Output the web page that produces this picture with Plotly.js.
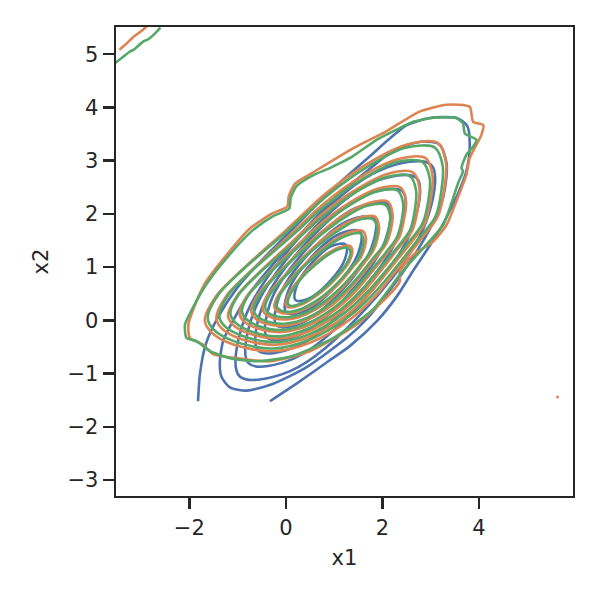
<!DOCTYPE html>
<html>
<head>
<meta charset="utf-8">
<script src="https://cdn.plot.ly/plotly-3.0.1.min.js"></script>
<style>
  html, body { margin: 0; padding: 0; background: #fff; }
  #chart { width: 600px; height: 600px; }
</style>
</head>
<body>
<div id="chart"></div>
<script>
// contour lines, outermost level first
var blueX = [
  [-1.82, -1.78, -1.66, -1.40, -0.99, -0.50, -0.02, 0.46, 0.95, 1.7, 2.5, 2.98, 3.54, 3.76, 3.81, 3.74, 3.6, 3.42, 3.22, 2.98, 2.65, 2.3, 1.9, 1.33, 0.91, 0.22, -0.33],
  [-1.37, -1.30, -1.09, -0.81, -0.26, 0.32, 1.0, 1.65, 2.25, 2.84, 3.19, 3.33, 3.3, 3.19, 2.85, 2.5, 2.1, 1.7, 1.3, 0.43, -0.26, -0.81, -1.16, -1.33, -1.37],
  [1.70, 0.10, -0.96, -0.86, 0.34, 1.95, 3.01, 2.91, 1.70],
  [1.57, 0.16, -0.77, -0.68, 0.38, 1.78, 2.71, 2.62, 1.57],
  [1.43, 0.23, -0.57, -0.50, 0.41, 1.62, 2.42, 2.34, 1.43],
  [1.30, 0.29, -0.38, -0.32, 0.44, 1.45, 2.12, 2.06, 1.30],
  [1.17, 0.35, -0.19, -0.14, 0.48, 1.29, 1.83, 1.78, 1.17],
  [1.03, 0.42, 0.01, 0.05, 0.51, 1.13, 1.54, 1.50, 1.03],
  [0.90, 0.48, 0.20, 0.23, 0.54, 0.96, 1.24, 1.22, 0.90]
];
var blueY = [
  [-1.52, -1.0, -0.45, 0.07, 0.63, 1.13, 1.57, 2.01, 2.45, 3.05, 3.66, 3.8, 3.8, 3.65, 3.25, 2.8, 2.45, 2.1, 1.75, 1.4, 0.95, 0.45, 0.0, -0.48, -0.75, -1.19, -1.52],
  [-0.81, -0.39, 0.0, 0.44, 1.06, 1.64, 2.28, 2.78, 3.2, 3.36, 3.3, 2.95, 2.5, 2.1, 1.5, 1.0, 0.5, 0.05, -0.3, -0.88, -1.19, -1.32, -1.26, -1.07, -0.81],
  [0.26, -0.95, -1.05, 0.02, 1.62, 2.82, 2.92, 1.86, 0.26],
  [0.34, -0.72, -0.81, 0.12, 1.53, 2.58, 2.67, 1.74, 0.34],
  [0.42, -0.49, -0.57, 0.23, 1.44, 2.34, 2.42, 1.62, 0.42],
  [0.49, -0.27, -0.33, 0.34, 1.35, 2.11, 2.17, 1.50, 0.49],
  [0.57, -0.04, -0.10, 0.44, 1.26, 1.87, 1.92, 1.38, 0.57],
  [0.64, 0.18, 0.14, 0.55, 1.17, 1.63, 1.67, 1.26, 0.64],
  [0.72, 0.41, 0.38, 0.66, 1.08, 1.40, 1.42, 1.14, 0.72]
];

var orangeX = [
  [0.19, 0.53, 1.39, 2.08, 2.77, 3.33, 3.81, 3.88, 4.09, 4.05, 3.81, 3.74, 3.53, 3.33, 3.05, 2.64, 2.36, 2.36, 2.08, 1.46, 0.50, -0.33, -1.02, -1.50, -1.71, -1.99, -2.02, -1.90, -1.68, -1.20, -0.75, -0.30, 0.03, 0.06, 0.19],
  [-1.68, -1.45, -0.92, 0.0, 0.85, 1.7, 2.5, 3.15, 3.32, 3.28, 3.15, 2.78, 2.3, 1.9, 1.35, 0.5, -0.3, -1.1, -1.55, -1.68],
  [-1.44, -1.24, -0.77, 0.05, 0.81, 1.58, 2.30, 2.89, 3.04, 3.00, 2.88, 2.55, 2.11, 1.75, 1.25, 0.49, -0.23, -0.93, -1.33, -1.44],
  [-1.20, -1.02, -0.61, 0.10, 0.78, 1.46, 2.10, 2.63, 2.77, 2.73, 2.62, 2.31, 1.93, 1.60, 1.15, 0.47, -0.16, -0.76, -1.10, -1.20],
  [-0.96, -0.81, -0.46, 0.15, 0.74, 1.34, 1.90, 2.37, 2.49, 2.45, 2.35, 2.08, 1.74, 1.45, 1.05, 0.46, -0.09, -0.59, -0.88, -0.96],
  [-0.72, -0.60, -0.31, 0.20, 0.71, 1.21, 1.70, 2.11, 2.21, 2.18, 2.08, 1.85, 1.56, 1.30, 0.95, 0.44, -0.01, -0.43, -0.65, -0.72],
  [-0.48, -0.39, -0.16, 0.25, 0.67, 1.09, 1.50, 1.85, 1.93, 1.90, 1.81, 1.62, 1.37, 1.15, 0.85, 0.43, 0.06, -0.26, -0.43, -0.48],
  [-0.24, -0.17, 0.0, 0.30, 0.64, 0.97, 1.30, 1.59, 1.66, 1.63, 1.55, 1.38, 1.19, 1.0, 0.75, 0.41, 0.13, -0.09, -0.20, -0.24],
  [0.0, 0.04, 0.15, 0.35, 0.6, 0.85, 1.1, 1.33, 1.38, 1.35, 1.28, 1.15, 1.0, 0.85, 0.65, 0.4, 0.2, 0.08, 0.02, 0.0]
];
var orangeY = [
  [2.57, 2.76, 3.23, 3.55, 3.92, 4.05, 4.01, 3.73, 3.67, 3.48, 3.05, 2.73, 2.23, 1.79, 1.48, 1.23, 0.92, 0.73, 0.42, -0.08, -0.58, -0.77, -0.71, -0.64, -0.46, -0.33, -0.08, 0.25, 0.69, 1.26, 1.72, 2.00, 2.14, 2.33, 2.57],
  [0.0, 0.45, 0.94, 1.69, 2.4, 2.95, 3.3, 3.33, 2.95, 2.45, 1.95, 1.5, 0.95, 0.5, 0.03, -0.42, -0.58, -0.45, -0.22, 0.0],
  [0.04, 0.45, 0.89, 1.57, 2.21, 2.71, 3.02, 3.05, 2.71, 2.27, 1.82, 1.41, 0.92, 0.52, 0.09, -0.31, -0.46, -0.35, -0.15, 0.04],
  [0.09, 0.45, 0.85, 1.45, 2.02, 2.46, 2.75, 2.78, 2.48, 2.09, 1.69, 1.33, 0.89, 0.53, 0.16, -0.21, -0.34, -0.25, -0.08, 0.09],
  [0.13, 0.45, 0.80, 1.33, 1.83, 2.22, 2.47, 2.50, 2.24, 1.91, 1.56, 1.24, 0.86, 0.55, 0.22, -0.10, -0.22, -0.15, -0.01, 0.13],
  [0.17, 0.45, 0.76, 1.21, 1.64, 1.98, 2.20, 2.23, 2.01, 1.72, 1.44, 1.16, 0.84, 0.57, 0.28, 0.01, -0.10, -0.06, 0.05, 0.17],
  [0.21, 0.45, 0.71, 1.09, 1.45, 1.74, 1.92, 1.95, 1.77, 1.54, 1.31, 1.07, 0.81, 0.59, 0.34, 0.12, 0.02, 0.04, 0.12, 0.21],
  [0.26, 0.45, 0.67, 0.97, 1.26, 1.49, 1.65, 1.68, 1.54, 1.36, 1.18, 0.99, 0.78, 0.60, 0.41, 0.22, 0.14, 0.14, 0.19, 0.26],
  [0.30, 0.45, 0.62, 0.85, 1.07, 1.25, 1.37, 1.40, 1.30, 1.18, 1.05, 0.9, 0.75, 0.62, 0.47, 0.33, 0.26, 0.24, 0.26, 0.30]
];

var greenX = [
  [0.22, 0.55, 0.91, 1.33, 1.88, 2.29, 2.64, 3.12, 3.53, 3.67, 3.71, 3.95, 3.88, 3.74, 3.64, 3.67, 3.57, 3.43, 3.26, 2.91, 2.40, 1.80, 0.95, 0.10, -0.61, -1.16, -1.57, -1.85, -2.06, -2.09, -1.92, -1.66, -1.18, -0.70, -0.28, 0.07, 0.10, 0.22],
  [-1.62, -1.4, -0.88, 0.04, 0.88, 1.72, 2.48, 3.08, 3.25, 3.22, 3.1, 2.74, 2.27, 1.87, 1.32, 0.5, -0.28, -1.05, -1.5, -1.62],
  [-1.38, -1.19, -0.73, 0.09, 0.84, 1.60, 2.28, 2.82, 2.98, 2.95, 2.83, 2.51, 2.09, 1.72, 1.22, 0.49, -0.21, -0.88, -1.28, -1.38],
  [-1.15, -0.98, -0.57, 0.14, 0.81, 1.47, 2.08, 2.57, 2.70, 2.67, 2.57, 2.28, 1.90, 1.58, 1.13, 0.48, -0.13, -0.72, -1.05, -1.15],
  [-0.91, -0.77, -0.42, 0.19, 0.77, 1.35, 1.88, 2.31, 2.43, 2.40, 2.30, 2.05, 1.72, 1.43, 1.03, 0.47, -0.06, -0.55, -0.83, -0.91],
  [-0.67, -0.55, -0.27, 0.23, 0.73, 1.23, 1.68, 2.06, 2.16, 2.13, 2.04, 1.81, 1.53, 1.28, 0.94, 0.45, 0.01, -0.39, -0.61, -0.67],
  [-0.43, -0.34, -0.12, 0.28, 0.69, 1.11, 1.48, 1.80, 1.89, 1.86, 1.77, 1.58, 1.35, 1.13, 0.84, 0.44, 0.08, -0.22, -0.39, -0.43],
  [-0.20, -0.13, 0.04, 0.33, 0.66, 0.98, 1.28, 1.55, 1.61, 1.58, 1.51, 1.35, 1.16, 0.99, 0.75, 0.43, 0.16, -0.06, -0.16, -0.20],
  [0.04, 0.08, 0.19, 0.38, 0.62, 0.86, 1.08, 1.29, 1.34, 1.31, 1.24, 1.12, 0.98, 0.84, 0.65, 0.42, 0.23, 0.11, 0.06, 0.04]
];
var greenY = [
  [2.52, 2.72, 2.86, 3.05, 3.39, 3.58, 3.73, 3.81, 3.80, 3.70, 3.51, 3.39, 3.26, 3.11, 2.86, 2.80, 2.58, 2.20, 1.79, 1.42, 0.90, 0.20, -0.35, -0.68, -0.77, -0.71, -0.58, -0.39, -0.33, -0.08, 0.25, 0.66, 1.22, 1.68, 1.95, 2.10, 2.30, 2.52],
  [0.05, 0.48, 0.96, 1.68, 2.36, 2.9, 3.24, 3.25, 2.9, 2.42, 1.95, 1.52, 0.98, 0.55, 0.08, -0.36, -0.53, -0.4, -0.17, 0.05],
  [0.09, 0.48, 0.91, 1.56, 2.17, 2.66, 2.97, 2.98, 2.67, 2.24, 1.82, 1.43, 0.95, 0.56, 0.14, -0.26, -0.41, -0.30, -0.10, 0.09],
  [0.13, 0.48, 0.87, 1.44, 1.99, 2.42, 2.69, 2.71, 2.43, 2.06, 1.69, 1.34, 0.92, 0.58, 0.20, -0.15, -0.30, -0.21, -0.04, 0.13],
  [0.17, 0.48, 0.82, 1.32, 1.80, 2.18, 2.42, 2.44, 2.20, 1.88, 1.56, 1.25, 0.89, 0.59, 0.26, -0.05, -0.18, -0.11, 0.03, 0.17],
  [0.21, 0.47, 0.77, 1.21, 1.61, 1.94, 2.15, 2.17, 1.97, 1.70, 1.43, 1.17, 0.85, 0.60, 0.32, 0.05, -0.06, -0.02, 0.09, 0.21],
  [0.25, 0.47, 0.72, 1.09, 1.42, 1.70, 1.88, 1.90, 1.74, 1.52, 1.30, 1.08, 0.82, 0.61, 0.38, 0.15, 0.06, 0.08, 0.16, 0.25],
  [0.29, 0.47, 0.68, 0.97, 1.24, 1.46, 1.60, 1.63, 1.50, 1.34, 1.17, 0.99, 0.79, 0.63, 0.44, 0.26, 0.17, 0.17, 0.22, 0.29],
  [0.33, 0.47, 0.63, 0.85, 1.05, 1.22, 1.33, 1.36, 1.27, 1.16, 1.04, 0.9, 0.76, 0.64, 0.5, 0.36, 0.29, 0.27, 0.29, 0.33]
];

// pieces in the top-left corner and the lone orange speck
var orangeCornerX = [-3.45, -3.3, -3.15, -3.0, -2.85];
var orangeCornerY = [5.08, 5.2, 5.33, 5.43, 5.55];
var greenCornerX = [-3.56, -3.37, -3.23, -3.16, -2.95, -2.85, -2.71, -2.6];
var greenCornerY = [4.82, 4.95, 5.05, 5.08, 5.24, 5.28, 5.39, 5.5];
var speckX = [5.63];
var speckY = [-1.44];

var xTicks = [-2, 0, 2, 4];
var yTicks = [-3, -2, -1, 0, 1, 2, 3, 4, 5];

var colors = {blue: '#4c72b0', orange: '#dd8452', green: '#55a868'};
var ink = '#262626';

function lineTrace(x, y, color, smooth) {
    return {
        type: 'scatter',
        mode: 'lines',
        x: x,
        y: y,
        showlegend: false,
        hoverinfo: 'skip',
        line: {color: color, width: 2.6, shape: 'spline', smoothing: smooth}
    };
}

var data = [];
blueX.forEach(function (xs, i) {
    data.push(lineTrace(xs, blueY[i], colors.blue, i < 2 ? 0.7 : 1));
});
orangeX.forEach(function (xs, i) {
    data.push(lineTrace(xs, orangeY[i], colors.orange, i < 1 ? 0.6 : 0.9));
});
data.push(lineTrace(orangeCornerX, orangeCornerY, colors.orange, 0.6));
data.push({
    type: 'scatter', mode: 'markers', x: speckX, y: speckY,
    showlegend: false, hoverinfo: 'skip',
    marker: {color: colors.orange, size: 3}
});
greenX.forEach(function (xs, i) {
    data.push(lineTrace(xs, greenY[i], colors.green, i < 1 ? 0.6 : 0.9));
});
data.push(lineTrace(greenCornerX, greenCornerY, colors.green, 0.6));

var axisStyle = {
    showgrid: false,
    zeroline: false,
    showline: true,
    mirror: true,
    linecolor: ink,
    linewidth: 2.4,
    ticks: 'outside',
    ticklen: 11,
    tickwidth: 2.4,
    tickcolor: ink,
    tickfont: {family: 'DejaVu Sans', size: 21, color: ink}
};

var layout = {
    width: 600,
    height: 600,
    margin: {l: 116, r: 27, t: 27, b: 104},
    paper_bgcolor: '#fff',
    plot_bgcolor: '#fff',
    xaxis: Object.assign({}, axisStyle, {
        range: [-3.52, 5.95],
        tickvals: xTicks,
        title: {text: 'x1', font: {family: 'DejaVu Sans', size: 21, color: ink}, standoff: 12}
    }),
    yaxis: Object.assign({}, axisStyle, {
        range: [-3.30, 5.51],
        tickvals: yTicks,
        title: {text: 'x2', font: {family: 'DejaVu Sans', size: 21, color: ink}, standoff: 13}
    })
};

Plotly.newPlot('chart', data, layout, {displayModeBar: false, staticPlot: true});
</script>
</body>
</html>
